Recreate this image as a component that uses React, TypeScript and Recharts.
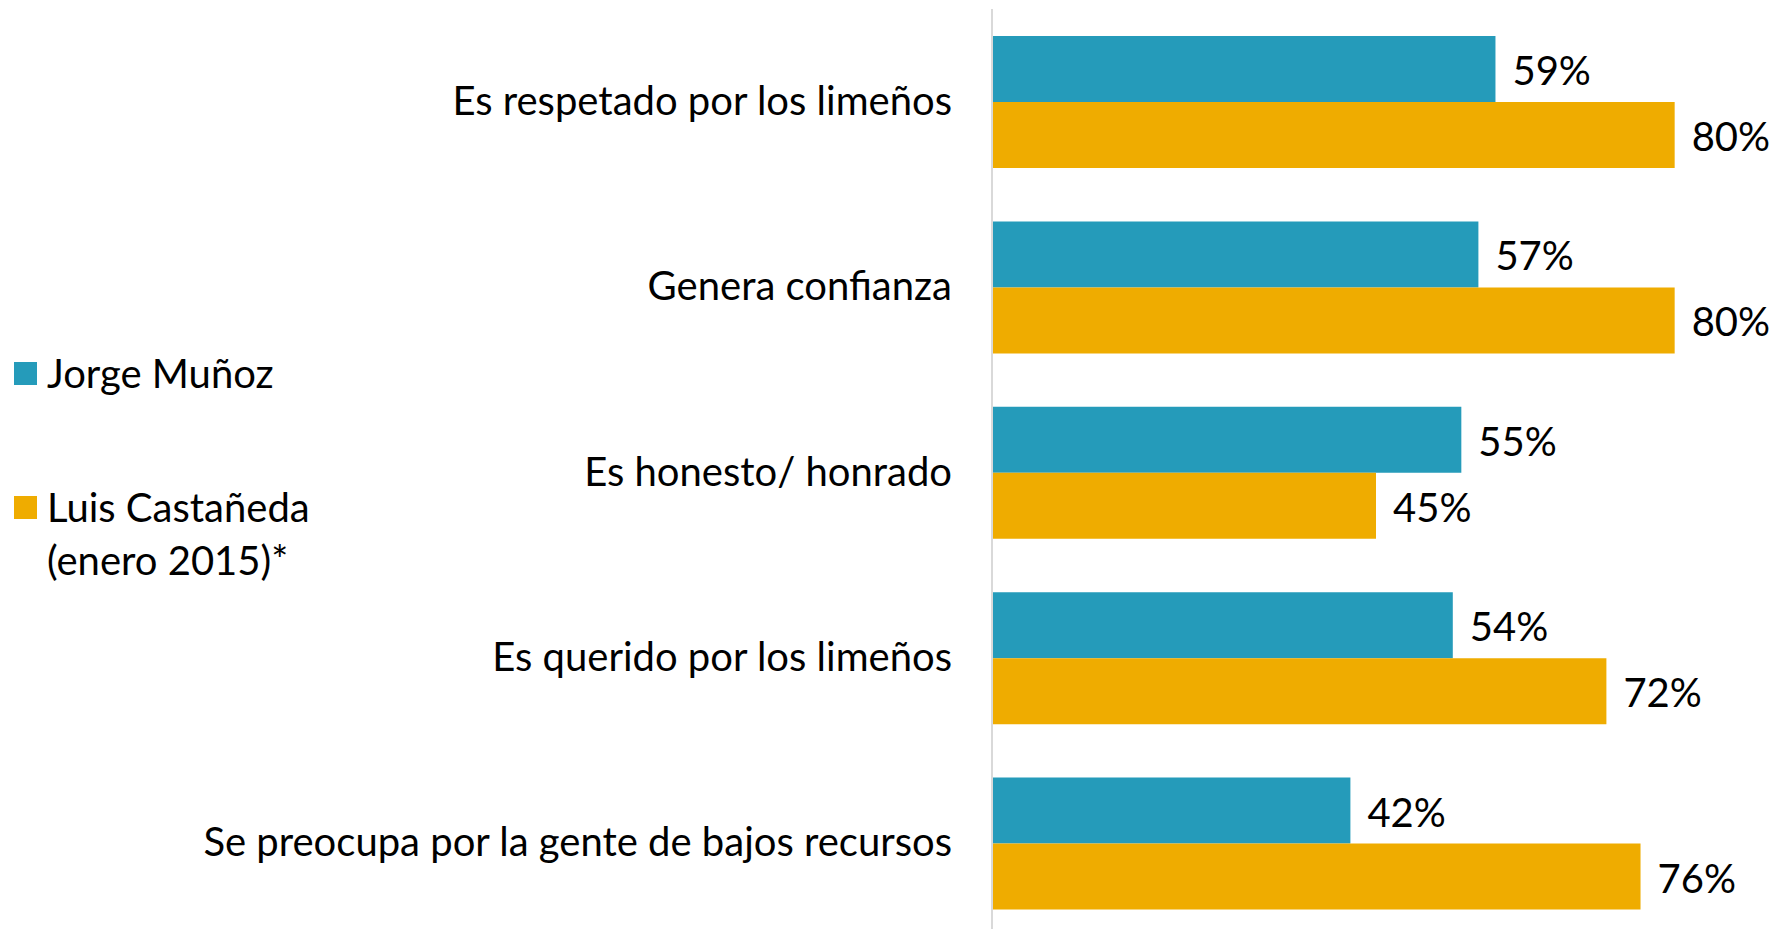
import React from 'react';
import { BarChart, Bar, XAxis, YAxis, LabelList } from 'recharts';

const categories = [
  'Es respetado por los limeños',
  'Genera confianza',
  'Es honesto/ honrado',
  'Es querido por los limeños',
  'Se preocupa por la gente de bajos recursos',
];
const munozValues = [59, 57, 55, 54, 42];
const castanedaValues = [80, 80, 45, 72, 76];

const seriesNames = ['Jorge Muñoz', 'Luis Castañeda\n(enero 2015)*'];
const seriesColors = ['#259BBA', '#EFAC00'];

const FONT = 'Lato, "Open Sans", sans-serif';
const FONT_SIZE = 40;

const data = categories.map((name, i) => ({
  name,
  munoz: munozValues[i],
  castaneda: castanedaValues[i],
}));

const CategoryTick = (props: any) => {
  const { x, y, payload } = props;
  return (
    <text x={x} y={y} dy={13} textAnchor="end" fill="#000" fontSize={FONT_SIZE} fontFamily={FONT}>
      {payload.value}
    </text>
  );
};

const ValueLabel = (props: any) => {
  const { x, y, width, height, value } = props;
  return (
    <text
      x={x + width + 17}
      y={y + height / 2}
      dy={16}
      textAnchor="start"
      fill="#000"
      fontSize={FONT_SIZE}
      fontFamily={FONT}
    >
      {`${value}%`}
    </text>
  );
};

const LegendBlock = () => (
  <div style={{ position: 'absolute', left: 0, top: 347, fontFamily: FONT, fontSize: FONT_SIZE, color: '#000' }}>
    {seriesNames.map((name, i) => (
      <div key={name} style={{ position: 'relative', paddingLeft: 47, marginBottom: 81, lineHeight: '53px' }}>
        <div
          style={{
            position: 'absolute',
            left: 14,
            top: 15,
            width: 23,
            height: 23,
            background: seriesColors[i],
          }}
        />
        {name.split('\n').map((line) => (
          <div key={line}>{line}</div>
        ))}
      </div>
    ))}
  </div>
);

export default function App() {
  return (
    <div style={{ position: 'absolute', left: 0, top: 0, width: 1774, height: 929, overflow: 'hidden', background: '#fff' }}>
      <BarChart
        width={1774}
        height={936}
        data={data}
        layout="vertical"
        margin={{ top: 9, right: 14, bottom: 0, left: 0 }}
        barCategoryGap={27}
        barGap={0}
      >
        <XAxis type="number" domain={[0, 90]} hide />
        <YAxis
          type="category"
          dataKey="name"
          width={992}
          axisLine={{ stroke: '#D9D9D9', strokeWidth: 2 }}
          tickLine={false}
          tickSize={0}
          tickMargin={40}
          tick={<CategoryTick />}
          interval={0}
        />
        <Bar dataKey="munoz" fill={seriesColors[0]} isAnimationActive={false}>
          <LabelList dataKey="munoz" content={<ValueLabel />} />
        </Bar>
        <Bar dataKey="castaneda" fill={seriesColors[1]} isAnimationActive={false}>
          <LabelList dataKey="castaneda" content={<ValueLabel />} />
        </Bar>
      </BarChart>
      <LegendBlock />
    </div>
  );
}
